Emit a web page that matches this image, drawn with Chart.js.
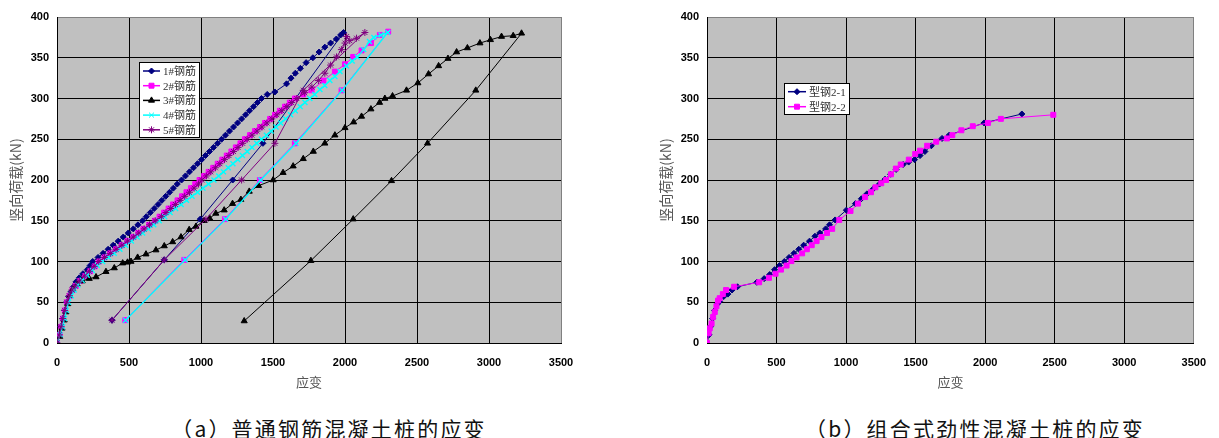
<!DOCTYPE html>
<html>
<head>
<meta charset="utf-8">
<script src="https://cdn.jsdelivr.net/npm/chart.js@4.4.1/dist/chart.umd.min.js"></script>
<style>
  body { margin: 0; background: #fff; width: 1219px; height: 438px; position: relative; overflow: hidden; }
  .wrap { position: absolute; top: 0; height: 400px; }
  .caption { position: absolute; top: 413px; font: 21px "Noto Sans CJK SC", sans-serif; letter-spacing: 2.2px; color: #111; white-space: nowrap; text-align: center; width: 400px; }
</style>
</head>
<body>
<div class="wrap" style="left:0;width:610px"><canvas id="chartA" width="610" height="400"></canvas></div>
<div class="wrap" style="left:650px;width:569px"><canvas id="chartB" width="569" height="400"></canvas></div>
<div class="caption" style="left:129px">（a）普通钢筋混凝土桩的应变</div>
<div class="caption" style="left:775px">（b）组合式劲性混凝土桩的应变</div>

<script>
// axis ticks
const xTicks = [0, 500, 1000, 1500, 2000, 2500, 3000, 3500];
const yTicks = [0, 50, 100, 150, 200, 250, 300, 350, 400];

// (a) ordinary rebar: loading branch then unloading line
const names1 = ['1#钢筋', '2#钢筋', '3#钢筋', '4#钢筋', '5#钢筋'];

const strain1 = [0, 12, 25, 38, 52, 66, 81, 98, 115, 132, 155, 180, 210, 230, 248, 285, 320, 355, 390, 425, 460, 495, 530, 562, 594, 620, 648, 675, 702, 728, 755, 782, 808, 835, 865, 892, 920, 948, 976, 1004, 1031, 1059, 1087, 1115, 1143, 1170, 1198, 1226, 1254, 1282, 1310, 1337, 1365, 1392, 1420, 1460, 1513, 1594, 1625, 1655, 1690, 1730, 1777, 1820, 1860, 1900, 1940, 1970, 1990,
  1430, 1220, 995, 745, 382];
const load1 = [0, 10, 20, 30, 40, 50, 57, 63, 69, 75, 80, 85, 90, 95, 100, 105, 110, 115, 120, 125, 130, 135, 140, 145, 150, 155, 160, 165, 170, 175, 180, 185, 190, 195, 200, 205, 210, 215, 220, 225, 230, 235, 240, 245, 250, 255, 260, 265, 270, 275, 280, 285, 290, 295, 300, 305, 308, 318, 325, 331, 337, 344, 350, 357, 363, 368, 373, 378, 381,
  245, 200, 152, 102, 28];

const strain2 = [0, 18, 30, 42, 55, 70, 88, 108, 130, 160, 195, 230, 262, 292, 330, 370, 410, 450, 490, 530, 565, 600, 640, 680, 712, 744, 775, 806, 837, 868, 899, 930, 960, 990, 1022, 1053, 1085, 1116, 1148, 1179, 1211, 1242, 1274, 1305, 1340, 1375, 1410, 1445, 1480, 1514, 1548, 1583, 1617, 1652, 1710, 1768, 1850, 1930, 2000, 2057, 2115, 2180, 2242, 2300,
  1976, 1652, 1409, 1166, 884, 474];
const load2 = [0, 10, 20, 30, 40, 50, 58, 65, 70, 76, 82, 88, 94, 100, 105, 110, 115, 120, 125, 130, 135, 140, 145, 150, 155, 160, 165, 170, 175, 180, 185, 190, 195, 200, 205, 210, 215, 220, 225, 230, 235, 240, 245, 250, 255, 260, 265, 270, 275, 280, 285, 290, 295, 300, 305, 310, 322, 333, 342, 351, 359, 368, 378, 382,
  310, 245, 200, 152, 102, 28];

const strain3 = [0, 20, 35, 50, 62, 75, 90, 110, 140, 175, 224, 271, 340, 398, 456, 490, 514, 560, 618, 687, 745, 803, 861, 918, 965, 1022, 1060, 1103, 1161, 1219, 1277, 1335, 1400, 1501, 1570, 1640, 1710, 1780, 1860, 1930, 2000, 2060, 2115, 2180, 2240, 2277, 2330, 2427, 2506, 2580, 2650, 2715, 2775, 2850, 2937, 3010, 3087, 3168, 3226,
  2908, 2573, 2323, 2057, 1763, 1300];
const load3 = [0, 8, 18, 28, 38, 48, 58, 66, 72, 76, 79, 81, 87.5, 92, 98, 99, 100, 105, 109, 114, 119, 124, 130, 139, 143, 150, 153, 159, 163, 171, 176, 186, 193, 200, 209, 217, 226, 235, 245, 255, 264, 271, 278, 287, 295, 300, 303, 310, 319, 330, 340, 349, 357, 362, 368, 372, 376, 377, 380,
  310, 245, 199, 152, 101, 27];

const strain4 = [0, 22, 38, 52, 65, 80, 100, 120, 145, 175, 210, 245, 280, 317, 357, 397, 437, 477, 517, 557, 595, 635, 672, 710, 748, 786, 824, 862, 900, 938, 976, 1014, 1052, 1090, 1123, 1156, 1189, 1222, 1255, 1288, 1321, 1354, 1387, 1420, 1454, 1487, 1521, 1554, 1588, 1622, 1655, 1689, 1722, 1756, 1790, 1826, 1860, 1895, 1930, 1965, 2010, 2050, 2085, 2130, 2170, 2200, 2250, 2297,
  1980, 1660, 1415, 1172, 890, 476];
const load4 = [0, 10, 20, 30, 40, 50, 58, 65, 71, 77, 83, 89, 95, 100, 105, 110, 115, 120, 125, 130, 135, 140, 145, 150, 155, 160, 165, 170, 175, 180, 185, 190, 195, 200, 205, 210, 215, 220, 225, 230, 235, 240, 245, 250, 255, 260, 265, 270, 275, 280, 285, 290, 295, 300, 305, 311, 316, 322, 327, 333, 340, 346, 351, 360, 370, 375, 378, 381,
  310, 245, 200, 152, 102, 28];

const strain5 = [0, 16, 28, 40, 53, 68, 85, 104, 126, 155, 190, 225, 258, 290, 330, 370, 410, 450, 490, 530, 568, 605, 643, 682, 725, 757, 790, 822, 855, 887, 920, 952, 983, 1005, 1037, 1068, 1100, 1131, 1163, 1194, 1226, 1257, 1289, 1320, 1354, 1389, 1423, 1458, 1492, 1527, 1561, 1596, 1630, 1665, 1720, 1770, 1815, 1860, 1900, 1941, 1975, 2000, 2011, 2033, 2080, 2138,
  1710, 1513, 1282, 1034, 745, 382];
const load5 = [0, 10, 20, 30, 40, 50, 58, 65, 70, 76, 82, 88, 94, 100, 105, 110, 115, 120, 125, 130, 135, 140, 145, 150, 155, 160, 165, 170, 175, 180, 185, 190, 195, 200, 205, 210, 215, 220, 225, 230, 235, 240, 245, 250, 255, 260, 265, 270, 275, 280, 285, 290, 295, 300, 307, 314, 322, 331, 341, 351, 360, 368, 376, 371, 374, 381,
  310, 245, 200, 152, 102, 28];

// (b) composite steel pile
const names2 = ['型钢2-1', '型钢2-2'];

const strain21 = [0, 15, 25, 40, 55, 75, 91, 120, 150, 180, 219, 358, 411, 451, 486, 521, 556, 590, 625, 660, 695, 737, 776, 811, 853, 881, 921, 1002, 1067, 1110, 1150, 1195, 1240, 1280, 1320, 1360, 1410, 1450, 1492, 1532, 1567, 1613, 1690, 1741, 1992, 2264];
const load21 = [0, 10, 20, 30, 40, 48, 51, 57, 60, 65, 69, 74.5, 79, 84, 90, 95, 100, 105, 110, 115, 120, 125, 131, 135, 140, 145, 151, 163, 171, 177, 183, 189, 195, 201, 207, 213, 219, 222, 225, 230, 235, 242, 251, 255, 270, 281];

const strain22 = [0, 12, 20, 33, 44, 56, 68, 79, 91, 114, 137, 195, 375, 446, 493, 532, 572, 607, 644, 684, 718, 753, 788, 823, 863, 900, 951, 1032, 1085, 1137, 1179, 1211, 1253, 1288, 1323, 1358, 1393, 1451, 1497, 1532, 1583, 1648, 1725, 1764, 1829, 1911, 2020, 2113, 2490];
const load22 = [0, 12, 18, 24, 32, 38, 45, 52, 55, 60, 65, 69, 74.5, 80, 85, 90, 95, 100.5, 105, 110, 115, 120, 125, 130, 135, 140, 151, 162, 171, 179, 185, 191, 196, 200, 207, 214, 219, 225, 232, 236, 242, 247, 251, 255, 261, 266, 270, 275, 280];

function pts(xs, ys) {
  return xs.map((x, i) => ({ x: x, y: ys[i] }));
}

// later series are painted over earlier ones, as in the original
function series(label, xs, ys, color, style, radius, order, width) {
  return {
    label: label,
    data: pts(xs, ys),
    showLine: true,
    order: order,
    borderColor: color,
    backgroundColor: color,
    borderWidth: width || 1,
    pointStyle: style,
    pointRadius: radius,
    pointBorderWidth: width || 1,
    pointBackgroundColor: color,
    pointBorderColor: color
  };
}

// grey plot area
const plotBg = {
  id: 'plotBg',
  beforeDraw(chart) {
    const a = chart.chartArea;
    const c = chart.ctx;
    c.save();
    c.fillStyle = '#C0C0C0';
    c.fillRect(a.left, a.top, a.right - a.left, a.bottom - a.top);
    c.restore();
  }
};

// legend box inside the plot
const boxLegend = {
  id: 'boxLegend',
  afterDraw(chart, args, o) {
    const c = chart.ctx;
    c.save();
    c.fillStyle = '#fff';
    c.fillRect(o.x, o.y, o.w, o.h);
    c.strokeStyle = '#000';
    c.lineWidth = 1;
    c.strokeRect(o.x + 0.5, o.y + 0.5, o.w, o.h);
    chart.data.datasets.forEach((ds, i) => {
      const y = o.row0 + i * o.step;
      c.strokeStyle = ds.borderColor;
      c.lineWidth = 1.5;
      c.beginPath();
      c.moveTo(o.x0, y);
      c.lineTo(o.x1, y);
      c.stroke();
      c.fillStyle = ds.backgroundColor;
      c.lineWidth = 1;
      Chart.helpers.drawPoint(c, { pointStyle: ds.pointStyle, radius: ds.pointRadius, rotation: 0, borderWidth: 1 }, (o.x0 + o.x1) / 2, y);
      c.fillStyle = '#333';
      c.font = '11px "Liberation Serif", "Noto Sans CJK SC", serif';
      c.textBaseline = 'middle';
      c.fillText(ds.label, o.tx, y + 1);
    });
    c.restore();
  }
};

function makeOptions(padRight, legendBox) {
  return {
    responsive: false,
    animation: false,
    layout: { padding: { top: 17, right: padRight, bottom: 0, left: 0 } },
    plugins: {
      legend: { display: false },
      tooltip: { enabled: false },
      boxLegend: legendBox
    },
    scales: {
      x: {
        type: 'linear',
        min: 0,
        max: 3500,
        afterBuildTicks: s => { s.ticks = xTicks.map(v => ({ value: v })); },
        afterFit: s => { s.height = 57; },
        grid: {
          drawTicks: false,
          lineWidth: 1,
          color: c => c.tick && c.tick.value === 3500 ? '#808080' : '#000'
        },
        border: { color: '#000' },
        ticks: {
          padding: 13,
          color: '#000',
          font: { family: '"Liberation Sans", Arial, sans-serif', size: 11, weight: 'bold' },
          callback: v => String(v)
        },
        title: {
          display: true,
          text: '应变',
          color: '#555',
          font: { family: '"Noto Sans CJK SC", sans-serif', size: 13 },
          padding: { top: 0, bottom: 10 }
        }
      },
      y: {
        type: 'linear',
        min: 0,
        max: 400,
        afterBuildTicks: s => { s.ticks = yTicks.map(v => ({ value: v })); },
        afterFit: s => { s.width = 57; },
        grid: {
          drawTicks: false,
          lineWidth: 1,
          color: c => c.tick && c.tick.value === 400 ? '#808080' : '#000'
        },
        border: { color: '#000' },
        ticks: {
          padding: 8,
          color: '#000',
          font: { family: '"Liberation Sans", Arial, sans-serif', size: 11, weight: 'bold' },
          callback: v => String(v)
        },
        title: {
          display: true,
          text: '竖向荷载(kN)',
          color: '#555',
          font: { family: '"Noto Sans CJK SC", sans-serif', size: 14 },
          padding: { top: 7, bottom: 0 }
        }
      }
    }
  };
}

new Chart(document.getElementById('chartA'), {
  type: 'scatter',
  data: {
    datasets: [
      series(names1[0], strain1, load1, '#000080', 'rectRot', 3, 4),
      series(names1[1], strain2, load2, '#FF00FF', 'rect', 3.5, 3),
      series(names1[2], strain3, load3, '#000000', 'triangle', 3.5, 2),
      series(names1[3], strain4, load4, '#00FFFF', 'crossRot', 3.5, 1, 1.4),
      series(names1[4], strain5, load5, '#800080', 'star', 3.5, 0)
    ]
  },
  options: makeOptions(49, { x: 139, y: 62, w: 60, h: 75, row0: 71, step: 14.7, x0: 143, x1: 160, tx: 163 }),
  plugins: [plotBg, boxLegend]
});

new Chart(document.getElementById('chartB'), {
  type: 'scatter',
  data: {
    datasets: [
      series(names2[0], strain21, load21, '#000080', 'rectRot', 3, 1),
      series(names2[1], strain22, load22, '#FF00FF', 'rect', 3.5, 0)
    ]
  },
  options: makeOptions(10, { x: 134, y: 83, w: 65, h: 31, row0: 91.7, step: 15, x0: 138, x1: 156, tx: 159 }),
  plugins: [plotBg, boxLegend]
});
</script>
</body>
</html>
